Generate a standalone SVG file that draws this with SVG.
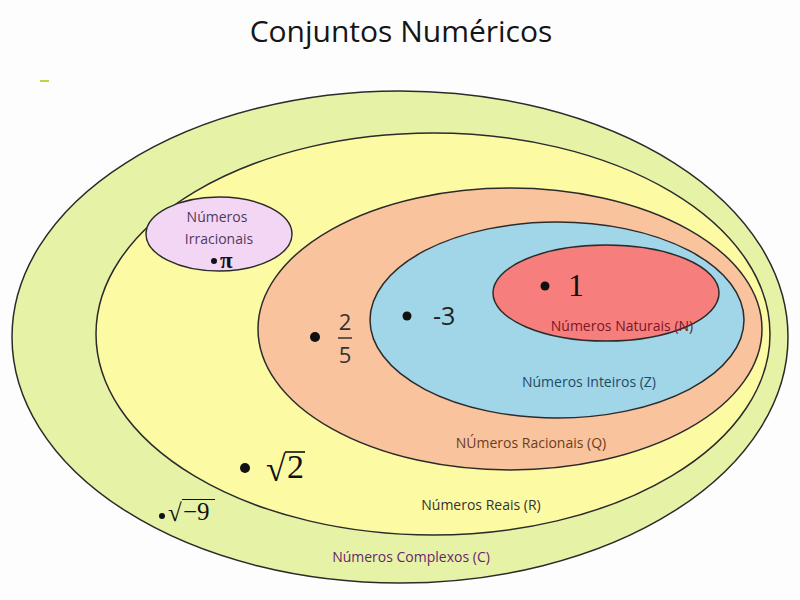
<svg xmlns="http://www.w3.org/2000/svg" width="800" height="600" viewBox="0 0 800 600">
<style>
.set{stroke:#2b2b2b;stroke-width:1.5}
.lbl{font-family:"Open Sans","DejaVu Sans",sans-serif;font-size:14px;text-anchor:middle}
.num{font-family:"Liberation Serif","DejaVu Serif",serif;fill:#111}
.dot{fill:#111}
</style>
<rect width="800" height="600" fill="#fdfdfd"/>
<text x="401" y="42" text-anchor="middle" font-family="'Open Sans','DejaVu Sans',sans-serif" font-size="30" fill="#151515">Conjuntos Numéricos</text>
<line x1="40" y1="81" x2="49" y2="81" stroke="#b8d84a" stroke-width="2"/>
<g id="complexos">
<ellipse class="set" cx="400" cy="337" rx="388" ry="246" fill="#e6f3a6"/>
<text class="lbl" x="411" y="562" fill="#6a1f6e">Números Complexos (C)</text>
<circle class="dot" cx="162" cy="516" r="3"/>
<text class="num" x="168" y="521" font-size="25">√</text>
<line x1="182" y1="499.5" x2="215" y2="499.5" stroke="#111" stroke-width="1.2"/>
<text class="num" x="183" y="520" font-size="25">−9</text>
</g>
<g id="reais">
<ellipse class="set" cx="433" cy="334" rx="337" ry="201" fill="#fdfaa4"/>
<text class="lbl" x="481" y="510" fill="#333">Números Reais (R)</text>
<circle class="dot" cx="245" cy="468" r="5"/>
<text class="num" x="266" y="481" font-size="36">√</text>
<line x1="285" y1="452" x2="305" y2="452" stroke="#111" stroke-width="1.6"/>
<text class="num" x="287" y="478" font-size="34">2</text>
</g>
<g id="irracionais">
<ellipse class="set" cx="219" cy="234" rx="73" ry="37" fill="#f3d6f4"/>
<text class="lbl" x="217" y="222" fill="#4f3a5e">Números</text>
<text class="lbl" x="219" y="244" fill="#4f3a5e">Irracionais</text>
<circle class="dot" cx="214" cy="261" r="3"/>
<text class="num" x="220" y="268" font-size="23" font-weight="bold">π</text>
</g>
<g id="racionais">
<ellipse class="set" cx="510" cy="329" rx="252" ry="141" fill="#f9c39d"/>
<text class="lbl" x="531" y="448" fill="#6b3d1e">NÚmeros Racionais (Q)</text>
<circle class="dot" cx="315" cy="337" r="5"/>
<text x="345" y="330" font-size="22" text-anchor="middle" font-family="'Open Sans',sans-serif" fill="#333">2</text>
<line x1="338" y1="338" x2="352" y2="338" stroke="#333" stroke-width="1.5"/>
<text x="345" y="363" font-size="22" text-anchor="middle" font-family="'Open Sans',sans-serif" fill="#333">5</text>
</g>
<g id="inteiros">
<ellipse class="set" cx="557" cy="320" rx="187" ry="98" fill="#a0d6e8"/>
<text class="lbl" x="589" y="387" fill="#1f4a66">Números Inteiros (Z)</text>
<circle class="dot" cx="407" cy="316" r="4.5"/>
<text x="433" y="325" font-family="'Open Sans',sans-serif" font-size="25" fill="#222">-3</text>
</g>
<g id="naturais">
<ellipse class="set" cx="606" cy="293" rx="113" ry="48" fill="#f67f7d"/>
<text class="lbl" x="622" y="331" fill="#7a1626">Números Naturais (N)</text>
<circle class="dot" cx="545" cy="286" r="4.5"/>
<text class="num" x="568" y="296" font-size="32">1</text>
</g>
<g id="connectors"/>
</svg>
